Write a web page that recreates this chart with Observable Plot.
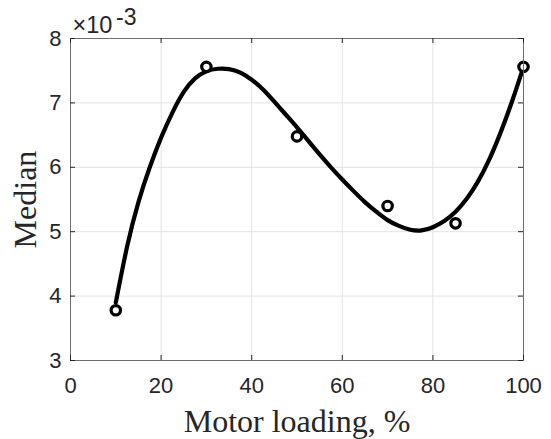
<!DOCTYPE html>
<html>
<head>
<meta charset="utf-8">
<script src="https://cdn.jsdelivr.net/npm/d3@7"></script>
<script src="https://cdn.jsdelivr.net/npm/@observablehq/plot@0.6"></script>
<style>
  html, body { margin: 0; padding: 0; background: #fff; }
  svg { display: block; }
</style>
</head>
<body>
<div id="chart"></div>
<script>
// Measured points (median in units of 1e-3)
const loading = [10, 30, 50, 70, 85, 100];
const median = [3.78, 7.56, 6.48, 5.40, 5.13, 7.56];

// Fitted curve, every 2.5 % (units of 1e-3)
const fitX = [10, 12.5, 15, 17.5, 20, 22.5, 25, 27.5, 30, 32.5, 35, 37.5, 40, 42.5, 45, 47.5, 50, 52.5, 55, 57.5, 60, 62.5, 65, 67.5, 70, 72.5, 75, 77.5, 80, 82.5, 85, 87.5, 90, 92.5, 95, 97.5, 100];
const fitY = [3.90, 4.77, 5.46, 6.00, 6.46, 6.85, 7.17, 7.38, 7.49, 7.53, 7.525, 7.47, 7.36, 7.21, 7.02, 6.82, 6.62, 6.41, 6.20, 6.00, 5.81, 5.63, 5.46, 5.31, 5.18, 5.09, 5.03, 5.02, 5.07, 5.165, 5.31, 5.515, 5.785, 6.13, 6.55, 7.03, 7.56];

const xTicks = [0, 20, 40, 60, 80, 100];
const yTicks = [3, 4, 5, 6, 7, 8];
const xGrid = [20, 40, 60, 80];
const yGrid = [4, 5, 6, 7];

const xLabel = "Motor loading, %";
const yLabel = "Median";
const expBase = "×10";
const expPow = "-3";

const points = loading.map((x, i) => ({x, y: median[i]}));
const fit = fitX.map((x, i) => ({x, y: fitY[i]}));

const W = 551, H = 439;
const mL = 70, mR = 28, mT = 38, mB = 79;
const fw = W - mL - mR, fh = H - mT - mB;
const tick = 5;
const ink = "#262626";

const chart = Plot.plot({
  width: W,
  height: H,
  marginLeft: mL,
  marginRight: mR,
  marginTop: mT,
  marginBottom: mB,
  style: {fontFamily: "'Liberation Sans', Arial, Helvetica, sans-serif", fontSize: "22px", color: ink, background: "#fff"},
  x: {domain: [0, 100]},
  y: {domain: [3, 8]},
  marks: [
    Plot.gridX(xGrid, {stroke: "#e3e3e3", strokeOpacity: 1}),
    Plot.gridY(yGrid, {stroke: "#e3e3e3", strokeOpacity: 1}),
    Plot.line(fit, {x: "x", y: "y", curve: "natural", stroke: "black", strokeWidth: 4.2}),
    Plot.dot(points, {x: "x", y: "y", r: 4.7, stroke: "black", strokeWidth: 3.2, fill: "white"}),
    Plot.frame({stroke: "#6e6e6e", strokeWidth: 1}),
    // inward tick marks on all four sides
    Plot.tickX(xTicks, {x: d => d, insetTop: fh - tick, stroke: ink}),
    Plot.tickX(xTicks, {x: d => d, insetBottom: fh - tick, stroke: ink}),
    Plot.tickY(yTicks, {y: d => d, insetRight: fw - tick, stroke: ink}),
    Plot.tickY(yTicks, {y: d => d, insetLeft: fw - tick, stroke: ink}),
    Plot.axisX(xTicks, {tickSize: 0, tickPadding: 16.5, fontSize: 22, label: null, fill: ink, tickFormat: d => String(d)}),
    Plot.axisY(yTicks, {tickSize: 0, tickPadding: 9, fontSize: 22, label: null, fill: ink, tickFormat: d => String(d)}),
    Plot.text([xLabel], {frameAnchor: "bottom", dy: 71, textAnchor: "middle", lineAnchor: "bottom", fontFamily: "'Liberation Serif', 'Times New Roman', serif", fontSize: 32, fill: ink}),
    Plot.text([yLabel], {frameAnchor: "left", dx: -35, rotate: -90, textAnchor: "middle", lineAnchor: "bottom", fontFamily: "'Liberation Serif', 'Times New Roman', serif", fontSize: 32, fill: ink}),
    Plot.text([expBase], {frameAnchor: "top-left", dx: 2, dy: -6, textAnchor: "start", lineAnchor: "bottom", fontSize: 23.5, fill: ink}),
    Plot.text([expPow], {frameAnchor: "top-left", dx: 45.5, dy: -13.5, textAnchor: "start", lineAnchor: "bottom", fontSize: 23, fill: ink})
  ]
});

document.getElementById("chart").appendChild(chart);
</script>
</body>
</html>
